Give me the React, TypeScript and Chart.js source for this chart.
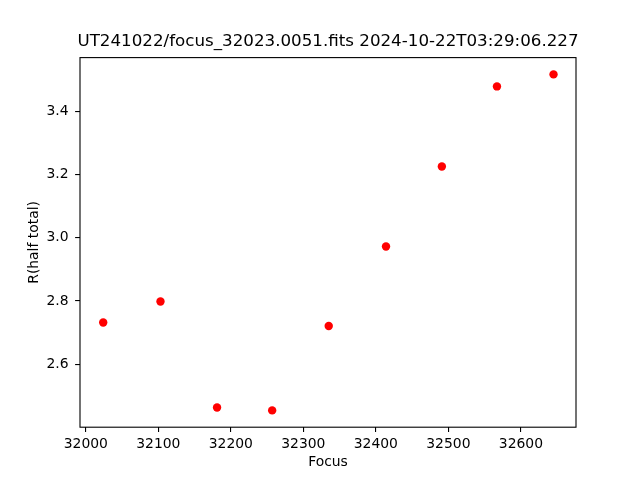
import React, { useEffect, useRef } from "react";
import { Chart, registerables } from "chart.js";

Chart.register(...registerables);

const titleText = "UT241022/focus_32023.0051.fits 2024-10-22T03:29:06.227";
const focusValues = [32024, 32103, 32181, 32257, 32335, 32414, 32491, 32567, 32645];
const radiusValues = [2.732, 2.798, 2.463, 2.454, 2.721, 2.972, 3.225, 3.478, 3.516];
const xTicks = [32000, 32100, 32200, 32300, 32400, 32500, 32600];
const yTicks = [2.6, 2.8, 3.0, 3.2, 3.4];
const xLabel = "Focus";
const yLabel = "R(half total)";

const FONT = "'DejaVu Sans', sans-serif";

export default function App() {
  const ref = useRef<HTMLCanvasElement | null>(null);
  useEffect(() => {
    if (!ref.current) return;
    const framePlugin = {
      id: "frame",
      afterDraw(chart: any) {
        const { ctx, chartArea } = chart;
        ctx.save();
        ctx.strokeStyle = "#000";
        ctx.lineWidth = 1.1;
        ctx.strokeRect(chartArea.left, chartArea.top, chartArea.right - chartArea.left, chartArea.bottom - chartArea.top);
        ctx.fillStyle = "#000";
        ctx.font = `16.7px ${FONT}`;
        ctx.textAlign = "center";
        ctx.textBaseline = "alphabetic";
        ctx.fillText(titleText, (chartArea.left + chartArea.right) / 2, 45.5);
        ctx.restore();
      },
    };
    const chart = new Chart(ref.current, {
      type: "scatter",
      data: {
        datasets: [
          {
            data: focusValues.map((x, i) => ({ x, y: radiusValues[i] })),
            backgroundColor: "#ff0000",
            borderColor: "#ff0000",
            pointRadius: 4.2,
            pointBorderWidth: 0,
            pointHoverRadius: 4.2,
          },
        ],
      },
      options: {
        responsive: false,
        animation: false,
        layout: { padding: { top: 57.6, right: 64, left: 0, bottom: 0 } },
        plugins: { legend: { display: false }, tooltip: { enabled: false }, title: { display: false } },
        scales: {
          x: {
            type: "linear",
            min: 31992,
            max: 32676,
            afterFit(scale: any) { scale.height = 52.8; },
            afterBuildTicks(scale: any) { scale.ticks = xTicks.map((v) => ({ value: v })); },
            grid: { drawOnChartArea: false, drawTicks: true, tickLength: 4.9, color: "#000", lineWidth: 1.1 },
            border: { display: false },
            ticks: {
              padding: 3.5,
              color: "#000",
              font: { family: FONT, size: 13.9 },
              maxRotation: 0,
              autoSkip: false,
              callback: (v: any) => String(v),
            },
            title: { display: true, text: xLabel, color: "#000", font: { family: FONT, size: 13.9 }, padding: { top: 0, bottom: 9.4 } },
          },
          y: {
            type: "linear",
            min: 2.4009,
            max: 3.5691,
            afterFit(scale: any) { scale.width = 80; },
            afterBuildTicks(scale: any) { scale.ticks = yTicks.map((v) => ({ value: v })); },
            grid: { drawOnChartArea: false, drawTicks: true, tickLength: 4.9, color: "#000", lineWidth: 1.1 },
            border: { display: false },
            ticks: {
              padding: 6.5,
              color: "#000",
              font: { family: FONT, size: 13.9 },
              autoSkip: false,
              callback: (v: any) => Number(v).toFixed(1),
            },
            title: { display: true, text: yLabel, color: "#000", font: { family: FONT, size: 13.9 }, padding: { top: 26.5, bottom: 0 } },
          },
        },
      },
      plugins: [framePlugin],
    });
    return () => chart.destroy();
  }, []);
  return (
    <div style={{ position: "fixed", left: 0, top: 0, width: 640, height: 480, background: "#fff" }}>
      <canvas ref={ref} width={640} height={480} />
    </div>
  );
}
